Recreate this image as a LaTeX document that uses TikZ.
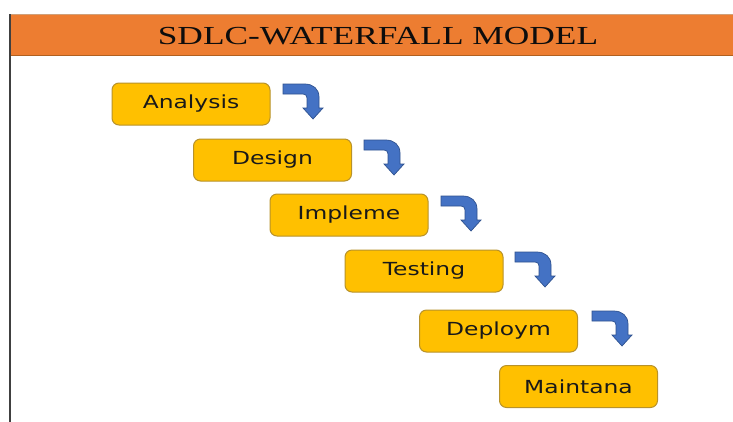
\documentclass[tikz,border=0pt]{standalone}
\usepackage{fontspec}
\usepackage{graphicx}
\setmainfont{Liberation Serif}
\newfontfamily\boxfont{DejaVu Sans}
\definecolor{hdrorange}{HTML}{ED7D31}
\definecolor{hdrline}{HTML}{B06020}
\definecolor{boxgold}{HTML}{FFC000}
\definecolor{boxedge}{HTML}{B8922A}
\definecolor{arrblue}{HTML}{4472C4}
\definecolor{arredge}{HTML}{2F528F}
\tikzset{
  phase/.style={draw=boxedge, line width=1pt, fill=boxgold, rounded corners=7pt,
    minimum width=158pt, minimum height=42pt, inner sep=0pt,
    font=\boxfont\fontsize{18}{20}\selectfont, text=black!90},
  bentarrow/.style={fill=arrblue, draw=arredge, line width=0.7pt},
}
\newcommand{\stretchtxt}[1]{\raisebox{-1.5pt}{\scalebox{1.3}[1]{#1}}}
\begin{document}
\begin{tikzpicture}[x=1pt,y=-1pt]
\useasboundingbox (0,0) rectangle (733,421);
\fill[white] (0,0) rectangle (733,421);
% header band
\fill[hdrorange] (9,14) rectangle (735,55);
\draw[hdrline!60!white, line width=1pt] (9,14) -- (735,14);
\draw[hdrline, line width=1pt] (9,55) -- (735,55);
\draw[black!75, line width=2pt] (10,14) -- (10,423);
\node[text=black!95, font=\fontsize{26}{30}\selectfont] (title) at (378,36.5) {\scalebox{1.36}[1]{SDLC-WATERFALL MODEL}};
% phases
\node[phase] (analysis) at (191,104) {\stretchtxt{Analysis}};
\node[phase] (design) at (272.5,160) {\stretchtxt{Design}};
\node[phase] (impl) at (349,215) {\stretchtxt{Impleme}};
\node[phase] (test) at (424,271) {\stretchtxt{Testing}};
\node[phase] (deploy) at (498.5,331) {\stretchtxt{Deploym}};
\node[phase] (maint) at (578.5,386.5) {\stretchtxt{Maintana}};
% bent arrows
\foreach \n/\ax/\ay in {a1/283/84, a2/364/140, a3/441/196, a4/515/252, a5/592/311}{
  \begin{scope}[shift={(\ax,\ay)}]
    \coordinate (\n) at (0,0);
    \filldraw[bentarrow] (0,0) -- (22,0) .. controls (30,0) and (36,5) .. (36,13)
      -- (36,24) -- (40,24) -- (30,35) -- (20,24) -- (24,24) -- (24,14)
      .. controls (24,11.5) and (22.5,10) .. (20,10) -- (0,10) -- cycle;
  \end{scope}
}
\end{tikzpicture}
\end{document}
